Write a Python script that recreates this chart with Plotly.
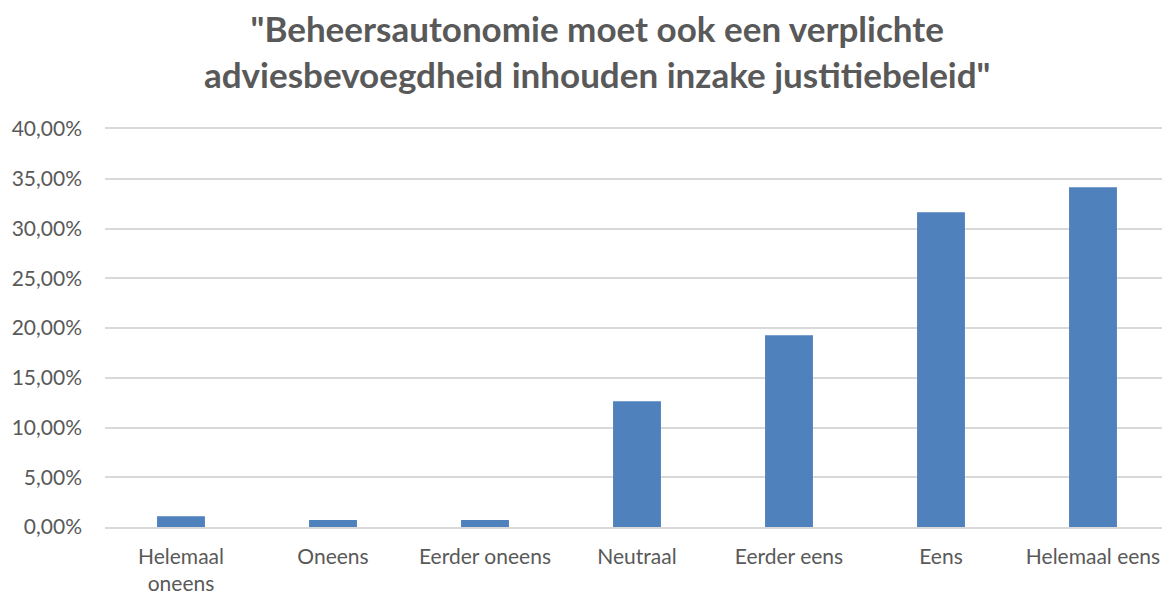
import plotly.graph_objects as go

categories = ["Helemaal<br>oneens", "Oneens", "Eerder oneens", "Neutraal",
              "Eerder eens", "Eens", "Helemaal eens"]
shares = [0.0107, 0.0071, 0.0071, 0.1265, 0.1928, 0.3164, 0.3414]

title = '"Beheersautonomie moet ook een verplichte<br>adviesbevoegdheid inhouden inzake justitiebeleid"'

fig = go.Figure(go.Bar(x=categories, y=shares, marker_color="#4f81bd",
                       marker_line_width=0))

# page body has an 8px margin, so the figure is a bit smaller than the window
fig.update_layout(
    width=1162, height=589,
    paper_bgcolor="white", plot_bgcolor="white",
    margin=dict(l=97, r=1, t=121, b=70, autoexpand=False),
    bargap=0.685,
    separators=",.",
    font=dict(family="Lato", color="#595959", size=21),
    showlegend=False,
)
fig.add_annotation(text=title, xref="paper", yref="paper", x=0.462, y=1.196,
                   xanchor="center", yanchor="middle", showarrow=False,
                   font=dict(family="Lato", size=35, color="#595959", weight="bold"))
fig.update_yaxes(range=[0, 0.4], tickvals=[i * 0.05 for i in range(9)],
                 tickformat=".2%", automargin=False,
                 gridcolor="#d9d9d9", gridwidth=1.5, zeroline=False,
                 showline=False, ticks="", ticklabelstandoff=22)
fig.update_xaxes(showline=True, mirror=True, linecolor="#d9d9d9", linewidth=1.5,
                 automargin=False, ticks="", ticklabelstandoff=10)

fig.write_html("out.html")
